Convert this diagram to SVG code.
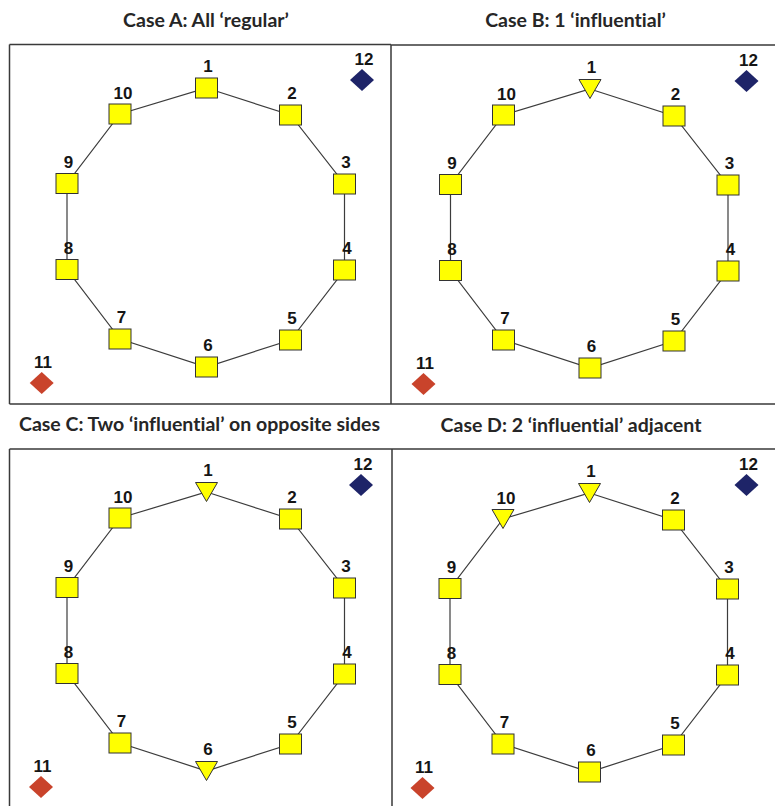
<svg xmlns="http://www.w3.org/2000/svg" width="775" height="806" viewBox="0 0 775 806">
  <style>
    .frame { fill: none; stroke: #3a3a3a; stroke-width: 1.5; }
    .title { font-family: Lato, "Liberation Sans", sans-serif; font-weight: bold; font-size: 19.5px; fill: #262626; text-anchor: middle; font-variant-ligatures: none; font-feature-settings: "liga" 0; }
    .lbl { font-family: "Liberation Sans", Arial, sans-serif; font-weight: bold; font-size: 17px; fill: #151515; text-anchor: middle; }
    .edge { stroke: #3c3c3c; stroke-width: 1.2; fill: none; }
    .reg { fill: #ffff00; stroke: #333333; stroke-width: 1; }
    .infl { fill: #ffff00; stroke: #333333; stroke-width: 1; }
    .red { fill: #c9432b; }
    .navy { fill: #1e2468; }
  </style>
  <defs>
    <rect id="sq" class="reg" x="-11" y="-10" width="22" height="20"/>
    <polygon id="tri" class="infl" points="-11,-9.5 11,-9.5 0,9.5"/>
    <polygon id="dmR" class="red" points="0,-11 12,0 0,11 -12,0"/>
    <polygon id="dmN" class="navy" points="0,-11 12,0 0,11 -12,0"/>
  </defs>

  <!-- panel frames -->
  <g id="frames" class="frame">
    <path d="M9.5 44.5 H391 M391 45 H775 M9.5 404 H775 M9.5 44.5 V404 M391 44.5 V404"/>
    <path d="M9.5 449 H775 M9.5 449 V806 M392 449 V806"/>
  </g>

  <!-- titles -->
  <text class="title" x="206" y="27">Case A: All ‘regular’</text>
  <text class="title" x="575.5" y="27">Case B: 1 ‘influential’</text>
  <text class="title" x="199.5" y="431">Case C: Two ‘influential’ on opposite sides</text>
  <text class="title" x="571" y="432">Case D: 2 ‘influential’ adjacent</text>

  <!-- Case A -->
  <g id="caseA">
    <g id="A-edges">
      <path class="edge" d="M206.5 88 L290.5 115 L344.5 184 L344.5 270 L290.5 340 L206.5 367 L120 339 L67 269.5 L67 183.5 L120 114 Z"/>
    </g>
    <g id="A-n1"><use href="#sq" x="206.5" y="88"/><text class="lbl" x="208" y="72">1</text></g>
    <g id="A-n2"><use href="#sq" x="290.5" y="115"/><text class="lbl" x="292" y="99">2</text></g>
    <g id="A-n3"><use href="#sq" x="344.5" y="184"/><text class="lbl" x="346" y="168">3</text></g>
    <g id="A-n4"><use href="#sq" x="344.5" y="270"/><text class="lbl" x="347" y="254">4</text></g>
    <g id="A-n5"><use href="#sq" x="290.5" y="340"/><text class="lbl" x="292" y="324">5</text></g>
    <g id="A-n6"><use href="#sq" x="206.5" y="367"/><text class="lbl" x="208" y="351">6</text></g>
    <g id="A-n7"><use href="#sq" x="120" y="339"/><text class="lbl" x="121.5" y="323">7</text></g>
    <g id="A-n8"><use href="#sq" x="67" y="269.5"/><text class="lbl" x="68.5" y="254">8</text></g>
    <g id="A-n9"><use href="#sq" x="67" y="183.5"/><text class="lbl" x="68.5" y="168">9</text></g>
    <g id="A-n10"><use href="#sq" x="120" y="114"/><text class="lbl" x="123" y="99">10</text></g>
    <g id="A-n11"><use href="#dmR" x="41.7" y="383"/><text class="lbl" x="43" y="368">11</text></g>
    <g id="A-n12"><use href="#dmN" x="362" y="80"/><text class="lbl" x="364" y="65">12</text></g>
  </g>

  <!-- Case B -->
  <g id="caseB" transform="translate(383.5 1)">
    <g id="B-edges">
      <path class="edge" d="M206.5 88 L290.5 115 L344.5 184 L344.5 270 L290.5 340 L206.5 367 L120 339 L67 269.5 L67 183.5 L120 114 Z"/>
    </g>
    <g id="B-n1"><use href="#tri" x="206.5" y="88"/><text class="lbl" x="208" y="72">1</text></g>
    <g id="B-n2"><use href="#sq" x="290.5" y="115"/><text class="lbl" x="292" y="99">2</text></g>
    <g id="B-n3"><use href="#sq" x="344.5" y="184"/><text class="lbl" x="346" y="168">3</text></g>
    <g id="B-n4"><use href="#sq" x="344.5" y="270"/><text class="lbl" x="347" y="254">4</text></g>
    <g id="B-n5"><use href="#sq" x="290.5" y="340"/><text class="lbl" x="292" y="324">5</text></g>
    <g id="B-n6"><use href="#sq" x="206.5" y="367"/><text class="lbl" x="208" y="351">6</text></g>
    <g id="B-n7"><use href="#sq" x="120" y="339"/><text class="lbl" x="121.5" y="323">7</text></g>
    <g id="B-n8"><use href="#sq" x="67" y="269.5"/><text class="lbl" x="68.5" y="254">8</text></g>
    <g id="B-n9"><use href="#sq" x="67" y="183.5"/><text class="lbl" x="68.5" y="168">9</text></g>
    <g id="B-n10"><use href="#sq" x="120" y="114"/><text class="lbl" x="123" y="99">10</text></g>
    <g id="B-n11"><use href="#dmR" x="40" y="383"/><text class="lbl" x="41.5" y="368">11</text></g>
    <g id="B-n12"><use href="#dmN" x="363" y="80"/><text class="lbl" x="365" y="65">12</text></g>
  </g>

  <!-- Case C -->
  <g id="caseC" transform="translate(0 404)">
    <g id="C-edges">
      <path class="edge" d="M206.5 88 L290.5 115 L344.5 184 L344.5 270 L290.5 340 L206.5 367 L120 339 L67 269.5 L67 183.5 L120 114 Z"/>
    </g>
    <g id="C-n1"><use href="#tri" x="206.5" y="88"/><text class="lbl" x="208" y="72">1</text></g>
    <g id="C-n2"><use href="#sq" x="290.5" y="115"/><text class="lbl" x="292" y="99">2</text></g>
    <g id="C-n3"><use href="#sq" x="344.5" y="184"/><text class="lbl" x="346" y="168">3</text></g>
    <g id="C-n4"><use href="#sq" x="344.5" y="270"/><text class="lbl" x="347" y="254">4</text></g>
    <g id="C-n5"><use href="#sq" x="290.5" y="340"/><text class="lbl" x="292" y="324">5</text></g>
    <g id="C-n6"><use href="#tri" x="206.5" y="367"/><text class="lbl" x="208" y="351">6</text></g>
    <g id="C-n7"><use href="#sq" x="120" y="339"/><text class="lbl" x="121.5" y="323">7</text></g>
    <g id="C-n8"><use href="#sq" x="67" y="269.5"/><text class="lbl" x="68.5" y="254">8</text></g>
    <g id="C-n9"><use href="#sq" x="67" y="183.5"/><text class="lbl" x="68.5" y="168">9</text></g>
    <g id="C-n10"><use href="#sq" x="120" y="114"/><text class="lbl" x="123" y="99">10</text></g>
    <g id="C-n11"><use href="#dmR" x="41" y="383"/><text class="lbl" x="42.5" y="368">11</text></g>
    <g id="C-n12"><use href="#dmN" x="361" y="81"/><text class="lbl" x="363" y="66">12</text></g>
  </g>

  <!-- Case D -->
  <g id="caseD" transform="translate(383 405)">
    <g id="D-edges">
      <path class="edge" d="M206.5 88 L290.5 115 L344.5 184 L344.5 270 L290.5 340 L206.5 367 L120 339 L67 269.5 L67 183.5 L120 114 Z"/>
    </g>
    <g id="D-n1"><use href="#tri" x="206.5" y="88"/><text class="lbl" x="208" y="72">1</text></g>
    <g id="D-n2"><use href="#sq" x="290.5" y="115"/><text class="lbl" x="292" y="99">2</text></g>
    <g id="D-n3"><use href="#sq" x="344.5" y="184"/><text class="lbl" x="346" y="168">3</text></g>
    <g id="D-n4"><use href="#sq" x="344.5" y="270"/><text class="lbl" x="347" y="254">4</text></g>
    <g id="D-n5"><use href="#sq" x="290.5" y="340"/><text class="lbl" x="292" y="324">5</text></g>
    <g id="D-n6"><use href="#sq" x="206.5" y="367"/><text class="lbl" x="208" y="351">6</text></g>
    <g id="D-n7"><use href="#sq" x="120" y="339"/><text class="lbl" x="121.5" y="323">7</text></g>
    <g id="D-n8"><use href="#sq" x="67" y="269.5"/><text class="lbl" x="68.5" y="254">8</text></g>
    <g id="D-n9"><use href="#sq" x="67" y="183.5"/><text class="lbl" x="68.5" y="168">9</text></g>
    <g id="D-n10"><use href="#tri" x="120" y="114"/><text class="lbl" x="123" y="99">10</text></g>
    <g id="D-n11"><use href="#dmR" x="39.5" y="383"/><text class="lbl" x="41" y="368">11</text></g>
    <g id="D-n12"><use href="#dmN" x="363.5" y="80"/><text class="lbl" x="365.5" y="65">12</text></g>
  </g>
</svg>
